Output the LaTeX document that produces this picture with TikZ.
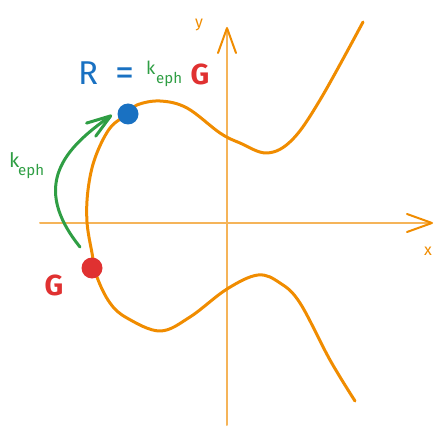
\documentclass[tikz,border=0pt]{standalone}
\usepackage{fontspec}
\setmainfont{Fira Sans}
\usetikzlibrary{arrows.meta}
\definecolor{exorange}{HTML}{F08C00}
\definecolor{exblue}{HTML}{1971C2}
\definecolor{exgreen}{HTML}{2F9E44}
\definecolor{exred}{HTML}{E03131}
\tikzset{
  axis/.style={exorange!65, line width=2pt, -{Straight Barb[length=25pt,width=18pt,round,color=exorange]}},
  curve/.style={exorange, line width=3pt},
  dot/.style={circle, inner sep=0pt, minimum size=21pt},
  karrow/.style={exgreen, line width=3pt, -{Straight Barb[length=24pt,width=16pt,round]}},
  axlabel/.style={text=exorange, inner sep=0pt, font=\fontsize{16}{18}\selectfont},
  bigtxt/.style={inner sep=0pt, font=\fontsize{33}{38}\selectfont},
  gtxt/.style={inner sep=0pt, text=exred, font=\fontsize{29}{34}\selectfont\bfseries},
  ktxt/.style={inner sep=0pt, text=exgreen, font=\fontsize{18}{22}\selectfont},
  subtxt/.style={inner sep=0pt, text=exgreen, font=\fontsize{15}{18}\selectfont}
}
\begin{document}
\begin{tikzpicture}[x=1pt, y=-1pt, line join=round, line cap=round]
  \useasboundingbox (0,0) rectangle (443,435);
  % axes
  \coordinate (xl) at (40,223); \coordinate (xr) at (433,223);
  \coordinate (yb) at (227,425); \coordinate (yt) at (227,27);
  \draw[axis] (xl) -- (xr);
  \draw[axis] (yb) -- (yt);
  \node[axlabel, anchor=base] (xlab) at (428,255) {x};
  \node[axlabel, anchor=base] (ylab) at (199,28) {y};
  % the curve
  \draw[curve] plot[smooth, tension=0.6] coordinates {
    (363,22) (320,100) (292,140) (267,153) (240,143) (220,133)
    (187,108) (160,101) (137,105) (128,114) (110,128) (95,158) (88,190)
    (87,222) (92,253) (97,277) (110,303) (127,318) (160,331) (190,317)
    (227,289) (258,275) (280,283) (300,303) (330,360) (355,401)};
  % points
  \node[dot, fill=exblue] (R) at (128,114) {};
  \node[dot, fill=exred] (G) at (92,268) {};
  % R = k_eph G
  \node[bigtxt, text=exblue, anchor=base] (eqR) at (88,85) {R};
  \node[bigtxt, text=exblue, font=\fontsize{38}{42}\selectfont] (eqeq) at (124.5,77) {=};
  \node[ktxt, anchor=base west] (eqk) at (146,75) {k};
  \node[subtxt, anchor=base west] (eqsub) at (156,84) {eph};
  \node[gtxt, anchor=base] (eqG) at (200,85) {G};
  % k_eph on the arrow
  \node[ktxt, font=\fontsize{20}{24}\selectfont, anchor=base west] (lk) at (9,168) {k};
  \node[subtxt, anchor=base west] (lsub) at (18,176) {eph};
  \node[gtxt, anchor=base] (lG) at (54,295) {G};
  \coordinate (kfrom) at (80,247);
  \coordinate (kto) at (112,115);
  \draw[karrow] (kfrom) .. controls (30,185) and (65,148) .. (kto);
\end{tikzpicture}
\end{document}
